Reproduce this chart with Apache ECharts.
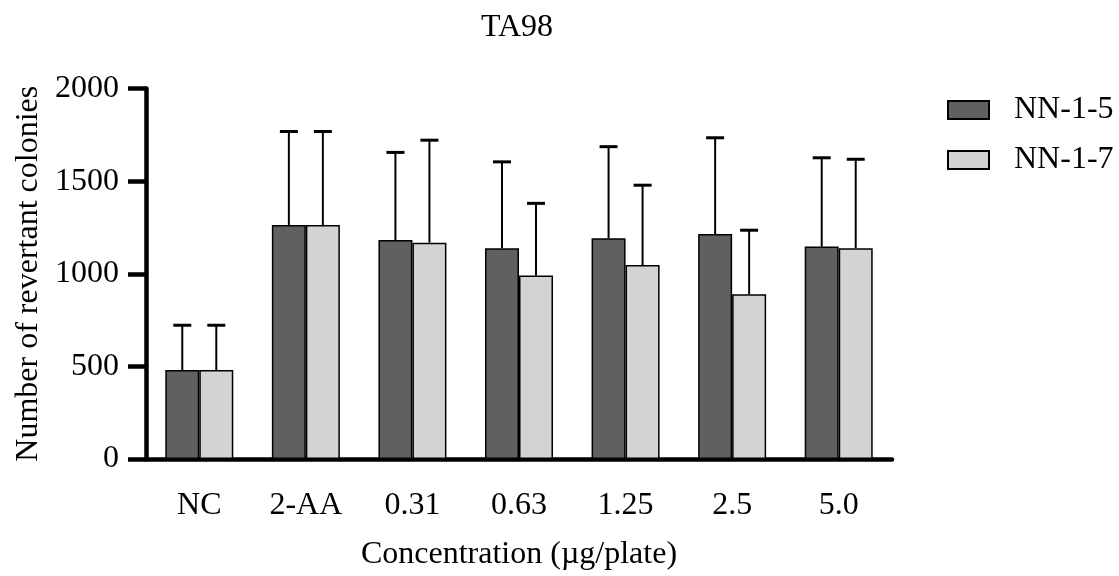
<!DOCTYPE html>
<html>
<head>
<meta charset="utf-8">
<script src="https://cdn.jsdelivr.net/npm/echarts@6/dist/echarts.min.js"></script>
<style>
  html, body { margin: 0; padding: 0; background: #fff; }
  #chart { width: 1119px; height: 576px; }
</style>
</head>
<body>
<div id="chart"></div>
<script>
// data
var categories = ['NC', '2-AA', '0.31', '0.63', '1.25', '2.5', '5.0'];
var nn15 = [480, 1263, 1182, 1138, 1191, 1214, 1147];
var nn15Err = [242, 505, 473, 466, 495, 520, 479];
var nn17 = [480, 1263, 1168, 991, 1047, 890, 1137];
var nn17Err = [242, 505, 553, 389, 431, 345, 481];
var yTicks = [0, 500, 1000, 1500, 2000];

var font = 'Liberation Serif';

function errData(vals, errs) {
    return vals.map(function (v, i) {
        return [i, v, v + errs[i]];
    });
}

// upper-only error bar with a cap, shifted onto its bar
function errorRender(offset) {
    return function (params, api) {
        var i = api.value(0);
        var lo = api.coord([i, api.value(1)]);
        var hi = api.coord([i, api.value(2)]);
        var x = lo[0] + offset;
        return {
            type: 'group',
            children: [
                { type: 'line', shape: { x1: x, y1: lo[1], x2: x, y2: hi[1] },
                  style: { stroke: '#000', lineWidth: 2 } },
                { type: 'line', shape: { x1: x - 9, y1: hi[1], x2: x + 9, y2: hi[1] },
                  style: { stroke: '#000', lineWidth: 3 } }
            ]
        };
    };
}

var chart = echarts.init(document.getElementById('chart'));
option = {
    animation: false,
    title: {
        text: 'TA98',
        left: 476,
        top: 7,
        textStyle: { fontFamily: font, fontSize: 32, fontWeight: 'normal', color: '#000' }
    },
    legend: {
        data: ['NN-1-5', 'NN-1-7'],
        orient: 'vertical',
        left: 947,
        top: 94,
        padding: 0,
        itemWidth: 41,
        itemHeight: 18,
        itemGap: 18,
        icon: 'rect',
        // text sits further from the swatch than the default 5px
        textStyle: { fontFamily: font, fontSize: 32, color: '#000', padding: [0, 0, 0, 20] }
    },
    grid: { left: 146, right: 227, top: 88.5, bottom: 106.5 },
    xAxis: {
        type: 'category',
        data: categories,
        name: 'Concentration (µg/plate)',
        nameLocation: 'middle',
        nameGap: 80,
        nameTextStyle: { fontFamily: font, fontSize: 32, color: '#000' },
        axisLine: { lineStyle: { color: '#000', width: 4.5 } },
        axisTick: { alignWithLabel: true, length: 17, lineStyle: { color: '#000', width: 4.5 } },
        axisLabel: { fontFamily: font, fontSize: 32, color: '#000', margin: 31 }
    },
    yAxis: {
        type: 'value',
        min: yTicks[0],
        max: yTicks[yTicks.length - 1],
        interval: 500,
        name: 'Number of revertant colonies',
        nameLocation: 'middle',
        nameGap: 99,
        nameTextStyle: { fontFamily: font, fontSize: 32, color: '#000' },
        axisLine: { show: true, lineStyle: { color: '#000', width: 4.5 } },
        axisTick: { show: true, length: 18, lineStyle: { color: '#000', width: 4.5 } },
        axisLabel: {
            fontFamily: font, fontSize: 32, color: '#000', margin: 27,
            formatter: function (v) { return String(v); }
        },
        splitLine: { show: false }
    },
    series: [
        {
            name: 'NN-1-5',
            type: 'bar',
            data: nn15,
            barWidth: 34,
            barGap: '0%',
            itemStyle: { color: '#606060', borderColor: '#000', borderWidth: 1.5 }
        },
        {
            name: 'NN-1-7',
            type: 'bar',
            data: nn17,
            barWidth: 34,
            barGap: '0%',
            itemStyle: { color: '#d3d3d3', borderColor: '#000', borderWidth: 1.5 }
        },
        {
            name: 'err15',
            type: 'custom',
            renderItem: errorRender(-17),
            encode: { x: 0, y: [1, 2] },
            data: errData(nn15, nn15Err),
            z: 1
        },
        {
            name: 'err17',
            type: 'custom',
            renderItem: errorRender(17),
            encode: { x: 0, y: [1, 2] },
            data: errData(nn17, nn17Err),
            z: 1
        }
    ]
};
chart.setOption(option);
</script>
</body>
</html>
